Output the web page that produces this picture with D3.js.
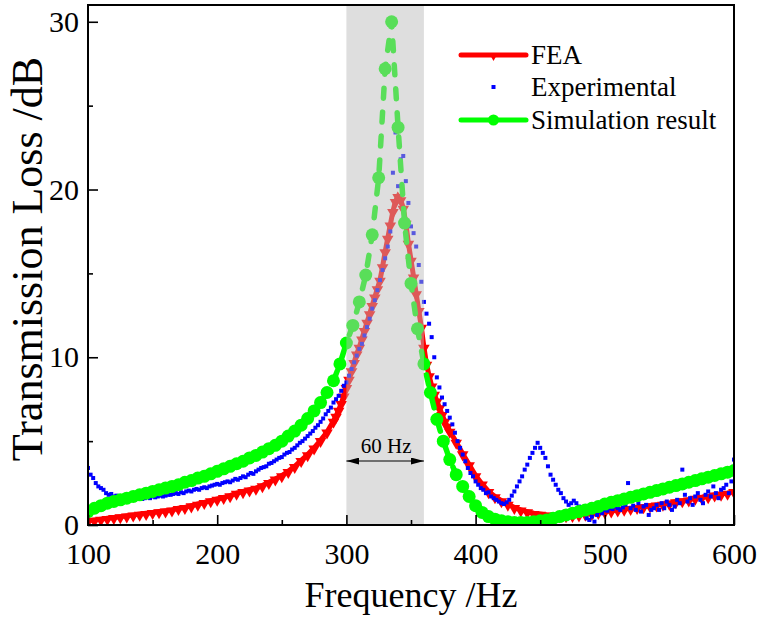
<!DOCTYPE html>
<html>
<head>
<meta charset="utf-8">
<script src="https://cdn.jsdelivr.net/npm/d3@7/dist/d3.min.js"></script>
<style>
  body { margin: 0; background: #fff; }
  text { font-family: "Liberation Serif", "Times New Roman", serif; fill: #000; }
</style>
</head>
<body>
<svg id="chart" width="760" height="629"></svg>
<script>
var w = 760, h = 629;
var margin = { top: 5, right: 26, bottom: 104, left: 88 };

// FEA: 5 Hz steps away from resonance, 2 Hz steps around it
var feaFreq = [].concat(d3.range(100, 291, 5), d3.range(292, 381, 2), d3.range(385, 601, 5));
var feaLoss = [
  0.25,0.3,0.35,0.4,0.45,0.5,0.55,0.6,0.65,0.7,
  0.75,0.8,0.85,0.9,1.0,1.05,1.15,1.25,1.35,1.45,
  1.55,1.65,1.75,1.9,2.0,2.1,2.2,2.35,2.55,2.75,
  2.95,3.2,3.5,3.85,4.2,4.6,5.05,5.55,6.2,
  6.5,6.85,7.25,7.7,8.2,8.7,9.2,9.7,10.2,10.6,
  11.1,11.6,12.1,12.6,13.1,13.6,14.1,14.6,15.4,16.3,
  17.1,17.9,18.7,19.3,19.6,19.4,18.9,18.0,16.8,15.8,
  14.8,13.8,12.8,11.8,10.6,9.6,8.9,8.3,7.8,7.4,
  7.0,6.6,6.2,5.9,5.6,
  4.95,4.25,3.6,2.95,2.45,2.0,1.7,1.45,1.25,1.05,
  0.9,0.8,0.7,0.65,0.6,0.58,0.56,0.56,0.58,0.6,
  0.65,0.7,0.75,0.8,0.85,0.9,0.95,1.0,1.05,1.1,
  1.15,1.2,1.25,1.3,1.4,1.45,1.5,1.6,1.65,1.7,
  1.8,1.85,1.9,2.0
];

// Experimental, every 2 Hz
var expFreq = d3.range(100, 601, 2);
var expLoss = [
  3.4,3.0,2.8,2.5,2.3,2.2,2.1,1.9,1.8,1.85,
  1.7,1.75,1.65,1.6,1.7,1.6,1.55,1.6,1.5,1.55,
  1.6,1.55,1.6,1.65,1.6,1.7,1.65,1.7,1.75,1.7,
  1.75,1.8,1.8,1.85,1.9,1.85,1.95,1.9,2.0,2.05,
  2.0,2.1,2.15,2.1,2.2,2.25,2.2,2.3,2.35,2.4,
  2.45,2.4,2.5,2.55,2.6,2.55,2.65,2.75,2.7,2.8,
  2.9,2.85,3.0,3.1,3.05,3.2,3.3,3.4,3.45,3.5,
  3.65,3.7,3.8,3.9,4.0,4.05,4.2,4.3,4.35,4.5,
  4.6,4.75,4.9,5.0,5.15,5.3,5.45,5.6,5.8,5.95,
  6.15,6.35,6.6,6.8,7.0,7.3,7.5,7.7,8.0,8.3,
  8.5,8.9,9.3,9.7,10.1,10.5,10.8,11.3,11.8,12.3,
  12.9,13.4,14.0,14.6,15.2,15.9,16.6,17.5,21.0,23.4,
  20.2,21.8,22.0,20.5,19.2,17.8,17.4,16.6,15.5,14.5,
  13.3,12.6,12.0,11.2,10.0,8.8,8.2,7.6,7.2,6.8,
  6.4,6.0,5.5,5.0,4.6,4.2,3.8,3.4,3.1,2.9,
  2.6,2.4,2.2,2.1,1.9,1.95,1.7,1.6,1.5,1.4,
  1.3,1.25,1.35,1.5,1.75,2.0,2.3,2.6,2.9,3.3,
  3.6,4.0,4.3,4.6,4.9,4.6,4.3,4.0,3.5,3.0,
  2.7,2.4,2.1,1.9,1.6,1.4,1.2,1.3,1.45,1.3,
  1.1,0.9,0.7,0.4,0.3,0.5,0.2,0.6,0.8,0.7,
  0.9,0.85,1.0,0.95,1.1,1.0,0.9,1.05,1.2,2.5,
  1.0,1.15,0.9,1.3,0.8,1.1,1.2,0.6,0.9,1.0,
  1.2,0.9,1.3,1.0,1.4,1.2,0.9,1.1,1.5,1.3,
  3.3,1.8,1.4,1.6,1.2,1.7,1.9,1.5,1.3,1.8,
  2.0,1.7,2.3,1.9,1.6,2.1,2.2,2.4,1.9,2.6,
  3.9
];

// Simulation result, every 5 Hz
var simFreq = d3.range(100, 601, 5);
var simLoss = [
  0.8,1.0,1.15,1.3,1.4,1.5,1.6,1.7,1.8,1.9,
  2.0,2.1,2.2,2.3,2.4,2.55,2.65,2.8,2.9,3.05,
  3.2,3.35,3.5,3.65,3.8,4.0,4.15,4.35,4.55,4.75,
  5.0,5.3,5.6,5.95,6.35,6.8,7.3,7.9,8.6,9.6,
  10.85,11.9,13.3,14.9,17.3,20.7,27.2,30.0,23.7,18.0,
  14.4,11.7,9.6,7.9,6.3,5.0,3.9,3.0,2.3,1.7,
  1.15,0.75,0.5,0.35,0.25,0.2,0.15,0.15,0.15,0.2,
  0.25,0.3,0.4,0.5,0.6,0.7,0.8,0.9,1.0,1.1,
  1.25,1.35,1.45,1.55,1.65,1.75,1.85,1.95,2.05,2.15,
  2.25,2.35,2.45,2.55,2.65,2.75,2.85,2.95,3.05,3.15,
  3.25
];

var xTicks = [100, 200, 300, 400, 500, 600];
var yTicks = [0, 10, 20, 30];
var band = [300, 360];
var bandLabel = "60 Hz";
var seriesNames = ["FEA", "Experimental", "Simulation result"];

var fea = feaFreq.map((f, i) => [f, feaLoss[i]]);
var exp = expFreq.map((f, i) => [f, expLoss[i]]);
var sim = simFreq.map((f, i) => [f, simLoss[i]]);

var svg = d3.select("#chart");

var x = d3.scaleLinear().domain([100, 600]).range([margin.left, w - margin.right]);
var y = d3.scaleLinear().domain([0, 31]).range([h - margin.bottom, margin.top]);

svg.append("clipPath").attr("id", "plotclip")
  .append("rect")
  .attr("x", x.range()[0]).attr("y", y.range()[1])
  .attr("width", x.range()[1] - x.range()[0])
  .attr("height", y.range()[0] - y.range()[1]);

var plot = svg.append("g").attr("clip-path", "url(#plotclip)");

var line = d3.line().x(d => x(d[0])).y(d => y(d[1]));

// FEA line + down triangles
plot.append("path")
  .datum(fea)
  .attr("d", line)
  .attr("fill", "none")
  .attr("stroke", "#ff0000")
  .attr("stroke-width", 5);

var tri = d3.symbol().type(d3.symbolTriangle).size(58);
plot.selectAll(".fea")
  .data(fea)
  .enter()
  .append("path")
  .attr("class", "fea")
  .attr("d", tri)
  .attr("transform", d => "translate(" + x(d[0]) + "," + (y(d[1]) + 1) + ") rotate(180)")
  .attr("fill", "#ff0000");

// experimental squares
plot.selectAll(".exp")
  .data(exp)
  .enter()
  .append("rect")
  .attr("class", "exp")
  .attr("x", d => x(d[0]) - 2)
  .attr("y", d => y(d[1]) - 2)
  .attr("width", 4)
  .attr("height", 4)
  .attr("fill", "#0000ff");

// simulation dashed line + circles
plot.append("path")
  .datum(sim)
  .attr("d", line)
  .attr("fill", "none")
  .attr("stroke", "#00ff00")
  .attr("stroke-width", 5.5)
  .attr("stroke-linecap", "round")
  .attr("stroke-dasharray", "10,14");

plot.selectAll(".sim")
  .data(sim)
  .enter()
  .append("circle")
  .attr("class", "sim")
  .attr("cx", d => x(d[0]))
  .attr("cy", d => y(d[1]))
  .attr("r", 6.5)
  .attr("fill", "#00ff00");

// grey band laid over the data
svg.append("rect")
  .attr("x", x(band[0]))
  .attr("y", y.range()[1])
  .attr("width", x(band[1]) - x(band[0]))
  .attr("height", y.range()[0] - y.range()[1])
  .attr("fill", "rgb(187,187,187)")
  .attr("fill-opacity", 0.48);

// double arrow
var ay = 461;
var defs = svg.append("defs");
defs.append("marker")
  .attr("id", "ah")
  .attr("viewBox", "0 0 13 7")
  .attr("refX", 13).attr("refY", 3.5)
  .attr("markerWidth", 13).attr("markerHeight", 7)
  .attr("markerUnits", "userSpaceOnUse")
  .attr("orient", "auto-start-reverse")
  .append("path")
  .attr("d", "M0,0 L13,3.5 L0,7 Z")
  .attr("fill", "#000");

svg.append("line")
  .attr("x1", x(band[0])).attr("x2", x(band[1]))
  .attr("y1", ay).attr("y2", ay)
  .attr("stroke", "#000").attr("stroke-width", 1.2)
  .attr("marker-start", "url(#ah)")
  .attr("marker-end", "url(#ah)");

svg.append("text")
  .attr("x", (x(band[0]) + x(band[1])) / 2 + 1)
  .attr("y", 453)
  .attr("text-anchor", "middle")
  .style("font-size", "21px")
  .text(bandLabel);

// axes (ticks pointing inward)
var xAxis = svg.append("g")
  .attr("transform", "translate(0," + y.range()[0] + ")")
  .call(d3.axisBottom(x).tickValues(xTicks).tickSize(-10).tickPadding(18).tickFormat(d3.format("d")));
xAxis.selectAll(".tick line").attr("stroke-width", 1.6);

var xMinor = svg.append("g")
  .attr("transform", "translate(0," + y.range()[0] + ")")
  .call(d3.axisBottom(x).tickValues([150, 250, 350, 450, 550]).tickSize(-5).tickFormat(""));
xMinor.selectAll(".tick line").attr("stroke-width", 1.6);
xMinor.select(".domain").remove();

var yAxis = svg.append("g")
  .attr("transform", "translate(" + x.range()[0] + ",0)")
  .call(d3.axisLeft(y).tickValues(yTicks).tickSize(-10).tickPadding(9).tickFormat(d3.format("d")));
yAxis.selectAll(".tick line").attr("stroke-width", 1.6);

var yMinor = svg.append("g")
  .attr("transform", "translate(" + x.range()[0] + ",0)")
  .call(d3.axisLeft(y).tickValues([5, 15, 25]).tickSize(-5).tickFormat(""));
yMinor.selectAll(".tick line").attr("stroke-width", 1.6);
yMinor.select(".domain").remove();

svg.selectAll(".tick text")
  .style("font-size", "30px")
  .style("font-family", "'Liberation Serif', serif")
  .attr("fill", "#000");
xAxis.select(".domain").remove();
yAxis.select(".domain").remove();

// frame
svg.append("rect")
  .attr("x", x.range()[0]).attr("y", y.range()[1])
  .attr("width", x.range()[1] - x.range()[0])
  .attr("height", y.range()[0] - y.range()[1])
  .attr("fill", "none")
  .attr("stroke", "#000")
  .attr("stroke-width", 2);

// axis titles
svg.append("text")
  .attr("x", (x.range()[0] + x.range()[1]) / 2)
  .attr("y", 607)
  .attr("text-anchor", "middle")
  .style("font-size", "36px")
  .text("Frequency /Hz");

svg.append("text")
  .attr("transform", "translate(42," + 259 + ") rotate(-90)")
  .attr("text-anchor", "middle")
  .style("font-size", "44px")
  .text("Transmission Loss /dB");

// legend
var lx1 = 461, lx2 = 526, ltx = 531;
var ly = [55, 87, 120];

svg.append("line")
  .attr("x1", lx1).attr("x2", lx2).attr("y1", ly[0]).attr("y2", ly[0])
  .attr("stroke", "#ff0000").attr("stroke-width", 5).attr("stroke-linecap", "round");
svg.append("path")
  .attr("d", d3.symbol().type(d3.symbolTriangle).size(20))
  .attr("transform", "translate(" + (lx1 + lx2) / 2 + "," + (ly[0] + 2) + ") rotate(180)")
  .attr("fill", "#ff0000");

svg.append("rect")
  .attr("x", (lx1 + lx2) / 2 - 2).attr("y", ly[1] - 2)
  .attr("width", 4).attr("height", 4)
  .attr("fill", "#0000ff");

svg.append("line")
  .attr("x1", lx1).attr("x2", lx2).attr("y1", ly[2]).attr("y2", ly[2])
  .attr("stroke", "#00ff00").attr("stroke-width", 5).attr("stroke-linecap", "round");
svg.append("circle")
  .attr("cx", (lx1 + lx2) / 2).attr("cy", ly[2]).attr("r", 5.5)
  .attr("fill", "#00ff00");

svg.selectAll(".legtext")
  .data(seriesNames)
  .enter()
  .append("text")
  .attr("class", "legtext")
  .attr("x", ltx)
  .attr("y", (d, i) => ly[i])
  .attr("dy", "0.35em")
  .style("font-size", "27px")
  .text(d => d);
</script>
</body>
</html>
